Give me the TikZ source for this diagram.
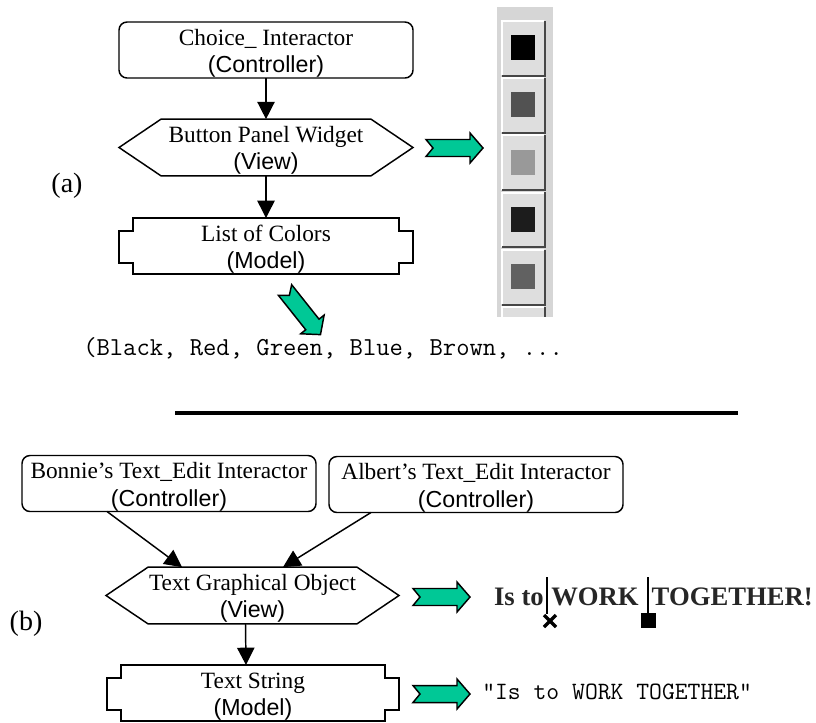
\documentclass[tikz,border=0pt]{standalone}
\usepackage{fontspec}
\setmainfont{Liberation Serif}
\setsansfont{Liberation Sans}
\usetikzlibrary{arrows.meta,calc}

\definecolor{mint}{RGB}{0,200,150}
\definecolor{panelgray}{RGB}{214,214,214}
\definecolor{btnface}{RGB}{222,222,222}
\definecolor{btnshadow}{RGB}{70,70,70}

% outline of a hexagonal "view" node
\newcommand\hexoutline[1]{%
  \draw[shapeline] (#1.west) -- ($(#1.north west)+(42,0)$) -- ($(#1.north east)+(-42,0)$)
    -- (#1.east) -- ($(#1.south east)+(-42,0)$) -- ($(#1.south west)+(42,0)$) -- cycle;}
% outline of a "model" box with side tabs
\newcommand\taboutline[1]{%
  \draw[shapeline] ($(#1.north west)+(14,0)$) -- ($(#1.north east)+(-14,0)$)
    -- ($(#1.north east)+(-14,13)$) -- ($(#1.north east)+(0,13)$)
    -- ($(#1.south east)+(0,-11)$) -- ($(#1.south east)+(-14,-11)$)
    -- ($(#1.south east)+(-14,0)$) -- ($(#1.south west)+(14,0)$)
    -- ($(#1.south west)+(14,-11)$) -- ($(#1.south west)+(0,-11)$)
    -- ($(#1.north west)+(0,13)$) -- ($(#1.north west)+(14,13)$) -- cycle;}
% two-line caption inside a box: serif name, sans role
\newcommand\boxtext[3]{%
  \node[serifl, anchor=base] (#1-a) at ($(#1.north)+(0,23)$) {#2};
  \node[sansl, anchor=base] (#1-b) at ($(#1.north)+(0,50.5)$) {#3};}
% one push button of the colour panel
\newcommand\colbtn[2]{%
  \fill[btnface] (501,#1) rectangle (545,#1+56);
  \draw[white, line width=1.5pt] (501.5,#1+55) -- (501.5,#1+0.8) -- (544,#1+0.8);
  \draw[btnshadow, line width=1.5pt] (502,#1+55.5) -- (545,#1+55.5) -- (545,#1+0.5);
  \fill[#2] (511,#1+15) rectangle (535,#1+40);}

\begin{document}
\begin{tikzpicture}[x=0.75pt,y=-0.75pt,
  shapeline/.style={line width=1.1pt, line join=miter},
  ctrlbox/.style={draw, line width=1.1pt, rounded corners=6pt, inner sep=0pt, outer sep=0pt,
    minimum width=220.5pt, minimum height=42pt},
  frame/.style={inner sep=0pt, outer sep=0pt, minimum width=220.5pt, minimum height=42.5pt},
  serifl/.style={font=\fontsize{17.5pt}{20pt}\selectfont, inner sep=0pt},
  sansl/.style={font=\sffamily\fontsize{17.4pt}{20pt}\selectfont, inner sep=0pt},
  tag/.style={font=\fontsize{21pt}{24pt}\selectfont, inner sep=0pt},
  conn/.style={line width=1.1pt, -{Triangle[width=13pt,length=13pt]}},
  fat/.pic={\draw[fill=mint, line width=1.1pt, line join=miter]
    (0,-8.5) -- (44,-8.5) -- (44,-15) -- (57,0) -- (44,15) -- (44,8.5) -- (0,8.5) -- (7,0) -- cycle;}
]
\useasboundingbox (0,0) rectangle (816,722);

% ---------------- part (a) ----------------
\node[ctrlbox] (ci) at (266,50) {};
\boxtext{ci}{Choice\_ Interactor}{(Controller)}

\node[frame] (bp) at (266,147.5) {};
\hexoutline{bp}
\boxtext{bp}{Button Panel Widget}{(View)}

\node[frame, minimum height=42pt] (lc) at (266,246) {};
\taboutline{lc}
\boxtext{lc}{List of Colors}{(Model)}

\draw[conn] (ci) -- (bp);
\draw[conn] (bp) -- (lc);

\node[tag] (ta) at (67,186) {(a)};

% colour button panel
\fill[panelgray] (497,7) rectangle (553,317);
\colbtn{20}{black}
\colbtn{77.3}{black!68}
\colbtn{134.6}{black!40}
\colbtn{191.9}{black!89}
\colbtn{249.2}{black!62}
\fill[btnface] (501,306.5) rectangle (545,317);
\draw[white, line width=1.5pt] (501.5,317) -- (501.5,307.3) -- (544,307.3);
\draw[btnshadow, line width=1.5pt] (545,307) -- (545,317);

\pic at (426,148) {fat};
\pic[rotate=-51.5] at (285,290) {fat};

\node[font=\ttfamily\fontsize{19.4pt}{22pt}\selectfont, inner sep=0pt, anchor=base west]
  (colors) at (83,355) {(Black, Red, Green, Blue, Brown, ...};

% separator
\draw[line width=3pt] (175,413) -- (738,413);

% ---------------- part (b) ----------------
\node[ctrlbox] (bon) at (169,483.5) {};
\boxtext{bon}{Bonnie’s Text\_Edit Interactor}{(Controller)}
\node[ctrlbox] (alb) at (476,484.5) {};
\boxtext{alb}{Albert’s Text\_Edit Interactor}{(Controller)}

\node[frame, minimum width=219.75pt] (tv) at (252.5,595.5) {};
\hexoutline{tv}
\boxtext{tv}{Text Graphical Object}{(View)}

\node[frame, minimum width=219pt, minimum height=42pt] (ts) at (253,693) {};
\taboutline{ts}
\boxtext{ts}{Text String}{(Model)}

\draw[conn] ($(bon.south west)+(85,0)$) -- ($(tv.north west)+(76,0)$);
\draw[conn] ($(alb.south west)+(42,0)$) -- ($(tv.north west)+(177,0)$);
\draw[conn] ([xshift=-5.25pt]tv.south) -- ([xshift=-5.25pt]ts.north);

\node[tag] (tb) at (26,624) {(b)};

\pic at (413,597) {fat};
\pic at (413,694) {fat};

% edited text with two insertion cursors
\begin{scope}[every node/.style={font=\bfseries\fontsize{20pt}{22pt}\selectfont, inner sep=0pt, text=black!85}]
\node[anchor=base east] (w1) at (544,605) {Is to};
\node[anchor=base west] (w2) at (551,605) {WORK};
\node[anchor=base east] (w3) at (813,605) {TOGETHER!};
\end{scope}
\draw[line width=1.6pt] (547,577) -- (547,614);
\draw[line width=1.6pt] (648,577) -- (648,614);
\draw[line width=2.6pt] (544,615) -- (556,627) (544,627) -- (556,615);
\fill (641,613) rectangle (656,628);

\node[font=\ttfamily\fontsize{18.7pt}{22pt}\selectfont, inner sep=0pt, anchor=base west]
  (str) at (482,699) {"Is to WORK TOGETHER"};
\end{tikzpicture}
\end{document}
